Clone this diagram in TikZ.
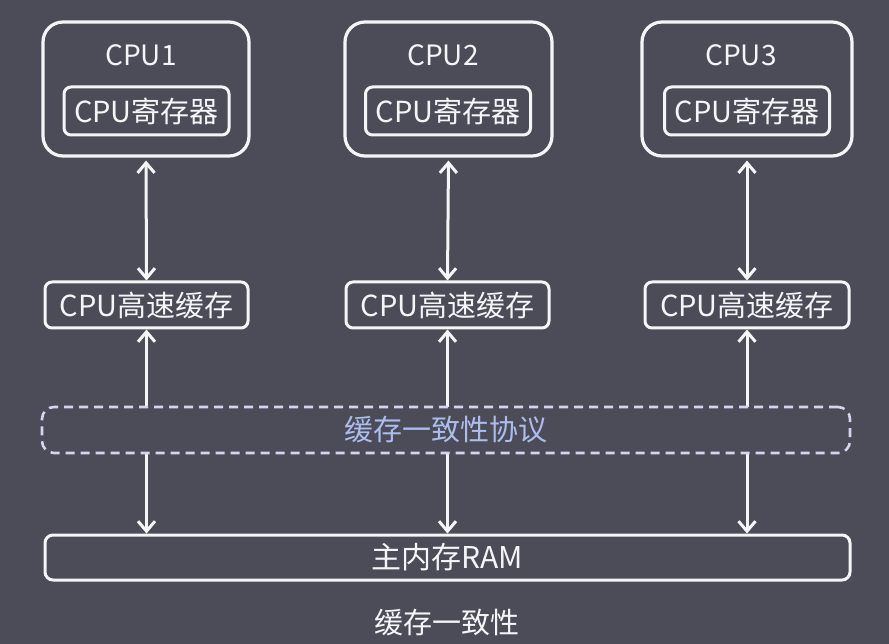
\documentclass[tikz,border=0pt]{standalone}
\usepackage{fontspec}
\setmainfont{Noto Sans CJK SC}
\usetikzlibrary{arrows.meta,calc}
\definecolor{bg}{RGB}{75,76,88}
\definecolor{fg}{RGB}{245,245,248}
\definecolor{lav}{RGB}{212,212,240}
\definecolor{lavtext}{RGB}{172,188,236}
\tikzset{
  cpubox/.style={draw=fg,line width=3.2pt,rounded corners=20pt,minimum width=206pt,minimum height=134pt,inner sep=0pt},
  regbox/.style={draw=fg,line width=3pt,rounded corners=7pt,minimum width=165pt,minimum height=48pt,inner sep=0pt,text=fg,font=\fontsize{29}{32}\selectfont},
  titletext/.style={text=fg,font=\fontsize{28}{32}\selectfont,inner sep=0pt},
  cachebox/.style={draw=fg,line width=3pt,rounded corners=7pt,minimum width=203pt,minimum height=46pt,inner sep=0pt,text=fg,font=\fontsize{29}{32}\selectfont},
  ccbox/.style={draw=lav,line width=2.6pt,dash pattern=on 9pt off 6pt,rounded corners=12pt,fill=bg,minimum width=808pt,minimum height=46pt,inner sep=0pt,text=lavtext,font=\fontsize{29}{32}\selectfont},
  rambox/.style={draw=fg,line width=3pt,rounded corners=8pt,minimum width=805pt,minimum height=45pt,inner sep=0pt,text=fg,font=\fontsize{30}{32}\selectfont},
  captiontext/.style={text=fg,font=\fontsize{29}{32}\selectfont,inner sep=0pt},
  arr/.style={draw=fg,line width=3pt,{Straight Barb[length=10pt,width=17pt]}-{Straight Barb[length=10pt,width=17pt]},shorten <=3pt},
}
\begin{document}
\begin{tikzpicture}[x=1pt,y=-1pt]
\fill[bg] (0,0) rectangle (889,644);
\useasboundingbox (0,0) rectangle (889,644);
% CPU boxes
\node[cpubox] (cpu1) at (146,89) {};
\node[cpubox,minimum width=207pt] (cpu2) at (448.5,89) {};
\node[cpubox,minimum width=210pt] (cpu3) at (747,89) {};
\node[titletext] (t1) at (141,55) {CPU1};
\node[titletext] (t2) at (443,55) {CPU2};
\node[titletext] (t3) at (741,55) {CPU3};
\node[regbox] (r1) at (146.5,111) {CPU寄存器};
\node[regbox] (r2) at (448,111) {CPU寄存器};
\node[regbox] (r3) at (747,111) {CPU寄存器};
% caches
\node[cachebox] (c1) at (146.5,305) {CPU高速缓存};
\node[cachebox] (c2) at (447.5,305) {CPU高速缓存};
\node[cachebox,minimum width=204pt] (c3) at (747,305) {CPU高速缓存};
% RAM
\node[rambox] (ram) at (447.5,557.5) {主内存RAM};
% arrows
\draw[arr] (cpu1.south) -- (c1.north);
\draw[arr] (cpu2.south) -- (c2.north);
\draw[arr] (cpu3.south) -- (c3.north);
\draw[arr,shorten <=0pt] (c1.south) -- (c1.south |- ram.north);
\draw[arr,shorten <=0pt] (c2.south) -- (c2.south |- ram.north);
\draw[arr,shorten <=0pt] (c3.south) -- (c3.south |- ram.north);
% protocol box over the lines
\node[ccbox] (cc) at (446,430) {缓存一致性协议};
\node[captiontext] (caption) at (447,623) {缓存一致性};
\end{tikzpicture}
\end{document}
